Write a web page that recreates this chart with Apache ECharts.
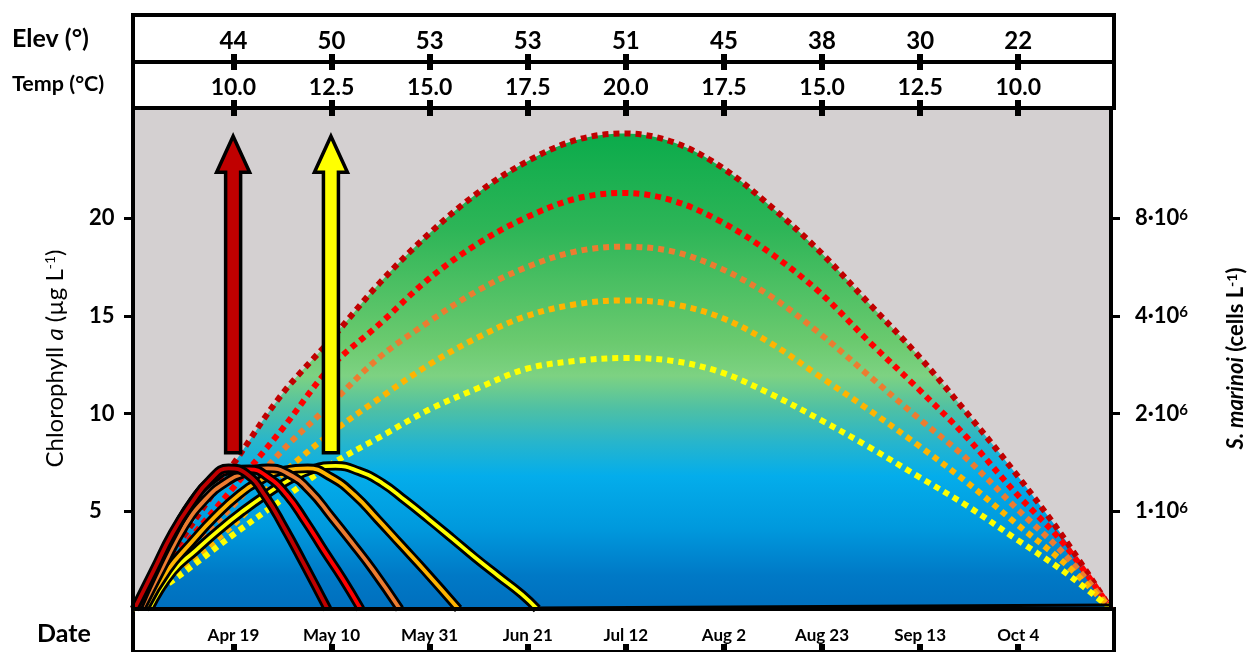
<!DOCTYPE html>
<html><head><meta charset="utf-8">
<script src="https://cdn.jsdelivr.net/npm/echarts@6/dist/echarts.min.js"></script>
<style>html,body{margin:0;padding:0;background:#fff}#c{width:1255px;height:652px}</style>
</head><body><div id="c"></div>
<script>
// ---- data ----
const tickDays = [109, 130, 151, 172, 193, 214, 235, 256, 277];
const dateLabels = ['Apr 19', 'May 10', 'May 31', 'Jun 21', 'Jul 12', 'Aug 2', 'Aug 23', 'Sep 13', 'Oct 4'];
const elevLabels = ['44', '50', '53', '53', '51', '45', '38', '30', '22'];
const tempLabels = ['10.0', '12.5', '15.0', '17.5', '20.0', '17.5', '15.0', '12.5', '10.0'];
const chlTicks = [5, 10, 15, 20];
const cellMantissa = ['1', '2', '4', '8'];
const cellExponent = '6';

const curveDays = [87.5, 98, 109, 119.5, 130, 140.5, 151, 161.5, 172, 182.5, 193, 203.5, 214, 224.5, 235, 245.5, 256, 266.5, 277, 287.5, 297.5];
const dotDarkRed = [0, 3.6, 7.4, 11.0, 13.8, 16.7, 19.2, 21.3, 22.9, 24.0, 24.35, 23.9, 22.6, 20.6, 18.3, 15.65, 13.0, 10.05, 6.95, 3.6, 0];
const dotRed     = [0, 3.1, 6.2, 9.2, 12.4, 14.6, 16.9, 18.7, 20.05, 21.0, 21.3, 20.9, 19.8, 18.2, 16.2, 13.7, 11.3, 8.8, 5.95, 3.3, 0];
const dotOrange  = [0, 2.7, 5.3, 8.1, 10.5, 12.9, 14.7, 16.3, 17.5, 18.3, 18.55, 18.3, 17.4, 16.0, 14.1, 11.95, 9.8, 7.7, 5.2, 2.8, 0];
const dotAmber   = [0, 2.1, 4.3, 6.9, 9.0, 10.8, 12.5, 13.9, 15.0, 15.6, 15.8, 15.6, 14.9, 13.6, 11.9, 10.2, 8.4, 6.5, 4.4, 2.35, 0];
const dotYellow  = [0, 1.8, 3.8, 5.6, 7.4, 8.8, 10.2, 11.3, 12.3, 12.7, 12.85, 12.7, 12.1, 11.0, 9.7, 8.3, 6.8, 5.3, 3.6, 1.9, 0];

const bloomDarkRed = [[87.8, 0], [92, 2.0], [96, 3.9], [100, 5.4], [104, 6.6], [108, 7.2], [112, 6.9], [116, 5.75], [120, 4.15], [124, 2.4], [129.3, 0]];
const bloomRed     = [[88.5, 0], [92.5, 2.1], [96.5, 4.0], [100.5, 5.6], [104.5, 6.6], [108.5, 7.1], [112.5, 7.15], [116.5, 6.75], [120.5, 5.85], [124.5, 4.5], [128.5, 3.0], [132.5, 1.55], [136.4, 0]];
const bloomOrange  = [[89.3, 0], [94, 2.2], [98.5, 4.2], [103, 5.6], [107.5, 6.5], [112, 7.0], [116.5, 7.2], [121, 6.9], [125.5, 6.05], [130, 4.75], [134.5, 3.4], [139, 2.0], [144.8, 0]];
const bloomAmber   = [[90, 0], [95, 2.0], [100, 3.4], [105, 4.7], [110, 5.8], [115, 6.6], [120, 7.1], [125, 7.2], [130, 6.75], [135, 5.85], [140, 4.6], [145, 3.3], [150, 2.0], [157.4, 0]];
const bloomYellow  = [[91, 0], [96, 1.9], [101, 3.0], [106, 4.05], [111, 5.0], [116, 5.85], [121, 6.6], [126, 7.15], [131, 7.33], [136, 7.05], [141, 6.45], [146, 5.55], [151, 4.6], [156, 3.62], [161, 2.62], [166, 1.68], [171, 0.75], [174.3, 0]];
const tailLine = [[174.3, 0.05], [297.5, 0.2]];

const arrowDays = [109, 130];
const arrowBase = [8.0, 8.0];
const arrowTip = [24.2, 24.2];

// ---- styling ----
const F = 'Lato';
const C = { darkred: '#c00000', red: '#ff0000', orange: '#ec7c30', amber: '#ffb400', yellow: '#ffff00' };
const arrowColors = [C.darkred, C.yellow];
const xMin = 87.5, xMax = 297.5;

const chart = echarts.init(document.getElementById('c'));
const pair = (days, vals) => days.map((d, i) => [d, vals[i]]);
const lookup = (labels) => (v) => { const i = tickDays.indexOf(Math.round(v)); return i < 0 ? '' : labels[i]; };

function dotted(name, vals, color, extra) {
  return Object.assign({
    type: 'line', name, xAxisIndex: 0, yAxisIndex: 0, data: pair(curveDays, vals),
    smooth: 0.35, symbol: 'none', z: 3,
    lineStyle: { color, width: 6, type: [6, 5], cap: 'butt' }
  }, extra || {});
}
function bloom(name, data, color) {
  return [
    { type: 'line', name: name + '-o', data, smooth: 0.5, symbol: 'none', z: 4,
      lineStyle: { color: '#000', width: 9.5, cap: 'butt' } },
    { type: 'line', name, data, smooth: 0.5, symbol: 'none', z: 4,
      lineStyle: { color, width: 3.8, cap: 'butt' } }
  ];
}

const hdrTick = { show: true, inside: true, length: 8, lineStyle: { color: '#000', width: 6 }, customValues: tickDays };
const hdrLabel = (labels, size, margin) => ({ show: true, inside: true, margin, fontFamily: F, fontWeight: 'bold', fontSize: size, color: '#000', customValues: tickDays, formatter: lookup(labels) });

const option = {
  animation: false,
  backgroundColor: '#fff',
  grid: [
    { left: 133, right: 141, top: 108, bottom: 43, show: true, backgroundColor: '#d4d0d1', borderColor: '#000', borderWidth: 4 },
    { left: 133, right: 141, top: 15, height: 47, show: true, backgroundColor: '#fff', borderColor: '#000', borderWidth: 4 },
    { left: 133, right: 141, top: 62, height: 46, show: true, backgroundColor: '#fff', borderColor: '#000', borderWidth: 4 },
    { left: 133, right: 141, top: 609, height: 47, show: true, backgroundColor: '#fff', borderColor: '#000', borderWidth: 4 }
  ],
  xAxis: [
    { gridIndex: 0, type: 'value', min: xMin, max: xMax, position: 'bottom', z: 10,
      axisLine: { show: true, lineStyle: { color: '#000', width: 4 } }, axisTick: { show: false }, axisLabel: { show: false }, splitLine: { show: false } },
    { gridIndex: 1, type: 'value', min: xMin, max: xMax, position: 'top',
      axisLine: { show: false }, axisTick: hdrTick, axisLabel: hdrLabel(elevLabels, 24, 14), splitLine: { show: false } },
    { gridIndex: 1, type: 'value', min: xMin, max: xMax, position: 'bottom',
      axisLine: { show: false }, axisTick: hdrTick, axisLabel: { show: false }, splitLine: { show: false } },
    { gridIndex: 2, type: 'value', min: xMin, max: xMax, position: 'top',
      axisLine: { show: false }, axisTick: hdrTick, axisLabel: hdrLabel(tempLabels, 23, 14), splitLine: { show: false } },
    { gridIndex: 2, type: 'value', min: xMin, max: xMax, position: 'bottom',
      axisLine: { show: false }, axisTick: hdrTick, axisLabel: { show: false }, splitLine: { show: false } },
    { gridIndex: 3, type: 'value', min: xMin, max: xMax, position: 'bottom',
      axisLine: { show: false }, axisTick: hdrTick, axisLabel: hdrLabel(dateLabels, 17, 8), splitLine: { show: false } }
  ],
  yAxis: [
    { gridIndex: 0, type: 'value', min: 0, max: 25.65, position: 'left', z: 10,
      axisLine: { show: true, lineStyle: { color: '#000', width: 4 } },
      axisTick: { show: true, length: 9, lineStyle: { color: '#000', width: 3 }, customValues: chlTicks },
      axisLabel: { show: true, margin: 15, customValues: chlTicks,
        formatter: (v) => '{a|' + v + '}',
        rich: { a: { width: 29, align: 'left', fontFamily: F, fontWeight: 'bold', fontSize: 22, color: '#000' } } },
      splitLine: { show: false },
      name: '{r|Chlorophyll }{i|a}{r| (µg L}{s|-1}{r|)}',
      nameLocation: 'middle', nameRotate: 90, nameGap: 66,
      nameTextStyle: { rich: {
        r: { fontFamily: F, fontSize: 24, color: '#000' },
        i: { fontFamily: F, fontSize: 24, fontStyle: 'italic', color: '#000' },
        s: { fontFamily: F, fontSize: 14, color: '#000', verticalAlign: 'top' } } } },
    { gridIndex: 0, type: 'value', min: 0, max: 25.65, position: 'right', z: 10,
      axisLine: { show: true, lineStyle: { color: '#000', width: 4 } },
      axisTick: { show: true, length: 9, lineStyle: { color: '#000', width: 3 }, customValues: chlTicks },
      axisLabel: { show: true, margin: 24, customValues: chlTicks,
        formatter: (v) => { const i = chlTicks.indexOf(v); return i < 0 ? '' : '{b|' + cellMantissa[i] + '·10}{s|' + cellExponent + '}'; },
        rich: { b: { fontFamily: F, fontWeight: 'bold', fontSize: 22, color: '#000' },
                s: { fontFamily: F, fontWeight: 'bold', fontSize: 15, color: '#000', verticalAlign: 'top' } } },
      splitLine: { show: false },
      name: '{bi|S. marinoi}{b| (cells L}{s|-1}{b|)}',
      nameLocation: 'middle', nameRotate: 90, nameGap: 114,
      nameTextStyle: { rich: {
        b: { fontFamily: F, fontWeight: 'bold', fontSize: 22, color: '#000' },
        bi: { fontFamily: F, fontWeight: 'bold', fontStyle: 'italic', fontSize: 22, color: '#000' },
        s: { fontFamily: F, fontWeight: 'bold', fontSize: 14, color: '#000', verticalAlign: 'top' } } } },
    { gridIndex: 1, type: 'value', show: false },
    { gridIndex: 2, type: 'value', show: false },
    { gridIndex: 3, type: 'value', show: false }
  ],
  graphic: [
    { type: 'text', left: 12, top: 26, style: { text: 'Elev (°)', font: 'bold 25px Lato', fill: '#000' } },
    { type: 'text', left: 12, top: 73, style: { text: 'Temp (°C)', font: 'bold 21.5px Lato', fill: '#000' } },
    { type: 'text', left: 37, top: 621, style: { text: 'Date', font: 'bold 25px Lato', fill: '#000' } }
  ],
  series: [
    dotted('dark red', dotDarkRed, C.darkred, {
      z: 2,
      areaStyle: { opacity: 1, origin: 'start', color: new echarts.graphic.LinearGradient(0, 0, 0, 1, [
        { offset: 0, color: '#0bab4b' }, { offset: 0.2, color: '#2db557' }, { offset: 0.44, color: '#6bca6f' },
        { offset: 0.51, color: '#7dd282' }, { offset: 0.58, color: '#4ec0a5' }, { offset: 0.65, color: '#27b5cc' },
        { offset: 0.72, color: '#04adeb' }, { offset: 0.83, color: '#0099dd' }, { offset: 0.93, color: '#0079c6' },
        { offset: 1, color: '#006fbe' } ]) }
    }),
    dotted('red', dotRed, C.red),
    dotted('orange', dotOrange, C.orange),
    dotted('amber', dotAmber, C.amber),
    dotted('yellow', dotYellow, C.yellow),
    { type: 'line', name: 'tail', data: tailLine, symbol: 'none', z: 4, lineStyle: { color: '#000', width: 3 } },
    ...bloom('b-yellow', bloomYellow, C.yellow),
    ...bloom('b-amber', bloomAmber, C.amber),
    ...bloom('b-orange', bloomOrange, C.orange),
    ...bloom('b-red', bloomRed, C.red),
    ...bloom('b-darkred', bloomDarkRed, C.darkred),
    { type: 'custom', name: 'arrows', z: 6, xAxisIndex: 0, yAxisIndex: 0,
      data: arrowDays.map((d, i) => [d, arrowBase[i], arrowTip[i], i]),
      renderItem: (params, api) => {
        const b = api.coord([api.value(0), api.value(1)]);
        const t = api.coord([api.value(0), api.value(2)]);
        const x = b[0], sh = 7.5, hh = 16.5, hl = 36;
        return { type: 'polygon', shape: { points: [
            [x - sh, b[1]], [x - sh, t[1] + hl], [x - hh, t[1] + hl], [x, t[1]],
            [x + hh, t[1] + hl], [x + sh, t[1] + hl], [x + sh, b[1]] ] },
          style: { fill: arrowColors[api.value(3)], stroke: '#000', lineWidth: 3.5, lineJoin: 'miter' } };
      } }
  ]
};
chart.setOption(option);
</script></body></html>
